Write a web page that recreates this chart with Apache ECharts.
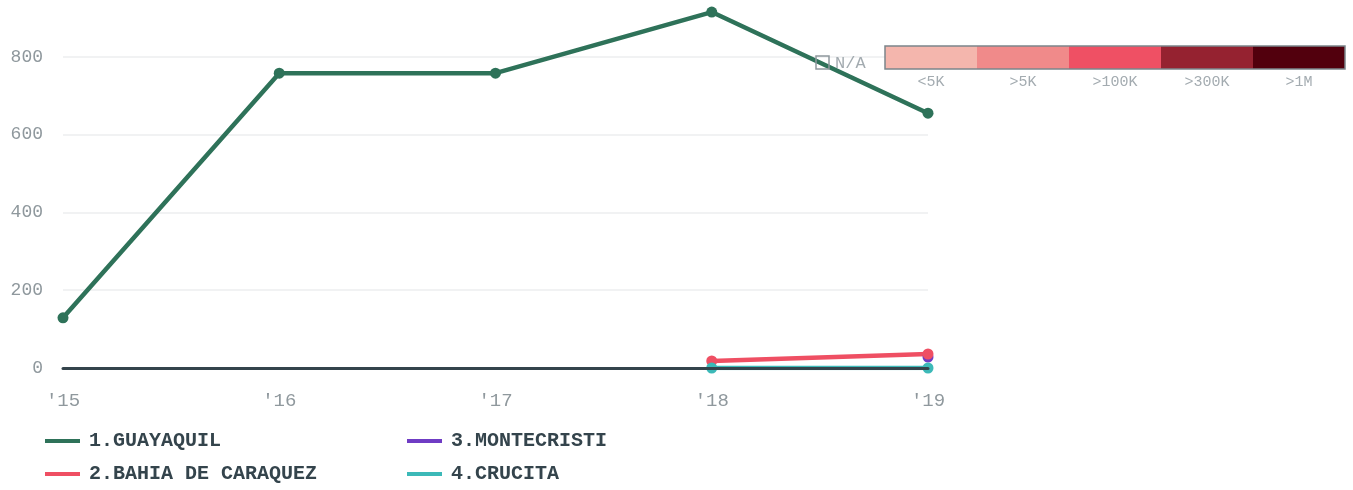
<!DOCTYPE html>
<html>
<head>
<meta charset="utf-8">
<script src="https://cdn.jsdelivr.net/npm/echarts@6/dist/echarts.min.js"></script>
<style>
  html, body { margin: 0; padding: 0; background: #fff; }
  #chart { width: 1353px; height: 490px; }
</style>
</head>
<body>
<div id="chart"></div>
<script>
// years on the x axis
var years = ["'15", "'16", "'17", "'18", "'19"];
// series values
var guayaquil = [129, 758, 758, 915, 655];
var bahia = [null, null, null, 18, 36];
var montecristi = [null, null, null, null, 28];
var crucita = [null, null, null, 0, 0];
// colour scale legend on the right
var scaleLabels = ['<5K', '>5K', '>100K', '>300K', '>1M'];
var scaleColors = ['#f4b6ad', '#f08a8a', '#ef5064', '#952230', '#52000d'];

var mono = '"Liberation Mono", "DejaVu Sans Mono", monospace';
var chart = echarts.init(document.getElementById('chart'));

function line(name, data, color) {
  return {
    name: name,
    type: 'line',
    data: data,
    symbol: 'circle',
    symbolSize: 11,
    lineStyle: { width: 4.5, color: color },
    itemStyle: { color: color },
    emphasis: { disabled: true }
  };
}

// scale legend drawn as graphic boxes
var graphics = [];
var x0 = 885, w = 92;
scaleColors.forEach(function (c, i) {
  graphics.push({
    type: 'rect', z: 100, shape: { x: x0 + i * w, y: 46, width: w, height: 23 },
    style: { fill: c }
  });
  graphics.push({
    type: 'text', z: 100,
    style: { x: x0 + i * w + w / 2, y: 82, text: scaleLabels[i], fill: '#a3abb0',
      font: '15px ' + mono, textAlign: 'center', textVerticalAlign: 'middle' }
  });
});
graphics.push({
  type: 'rect', z: 101, shape: { x: x0, y: 46, width: w * 5, height: 23 },
  style: { fill: 'none', stroke: '#7b858b', lineWidth: 1.5 }
});
graphics.push({
  type: 'rect', z: 100, shape: { x: 816, y: 56, width: 13, height: 13 },
  style: { fill: 'none', stroke: '#8f989d', lineWidth: 1.5 }
});
graphics.push({
  type: 'text', z: 100,
  style: { x: 835, y: 63, text: 'N/A', fill: '#a3abb0', font: '17px ' + mono, textVerticalAlign: 'middle' }
});

var legendText = { color: '#34444c', fontSize: 20, fontWeight: 'bold', fontFamily: mono, padding: [0, 0, 0, 4] };
function legendItem(name, left, top) {
  return {
    data: [name], left: left, top: top,
    itemWidth: 35, itemHeight: 4, icon: 'rect', itemGap: 10,
    padding: 0,
    textStyle: legendText
  };
}

chart.setOption({
  animation: false,
  grid: { left: 63, right: 425, top: -21, bottom: 122, containLabel: false, outerBoundsMode: 'none' },
  legend: [
    legendItem('1.GUAYAQUIL', 45, 431),
    legendItem('2.BAHIA DE CARAQUEZ', 45, 464),
    legendItem('3.MONTECRISTI', 407, 431),
    legendItem('4.CRUCITA', 407, 464)
  ],
  xAxis: {
    type: 'category',
    data: years,
    boundaryGap: false,
    z: 5,
    axisLine: { lineStyle: { color: '#34444c', width: 3 } },
    axisTick: { show: false },
    axisLabel: { color: '#8f989d', fontSize: 19, fontFamily: mono, margin: 23 }
  },
  yAxis: {
    type: 'value',
    min: 0, max: 1000, interval: 200,
    axisLine: { show: false },
    axisTick: { show: false },
    splitLine: { lineStyle: { color: '#eceeef', width: 1.5 } },
    axisLabel: { color: '#8f989d', fontSize: 18, fontFamily: mono, margin: 20 }
  },
  series: [
    line('1.GUAYAQUIL', guayaquil, '#2e7259'),
    line('3.MONTECRISTI', montecristi, '#6f3cc4'),
    line('2.BAHIA DE CARAQUEZ', bahia, '#ef4f63'),
    line('4.CRUCITA', crucita, '#3cb9b8')
  ],
  graphic: graphics
});
</script>
</body>
</html>
